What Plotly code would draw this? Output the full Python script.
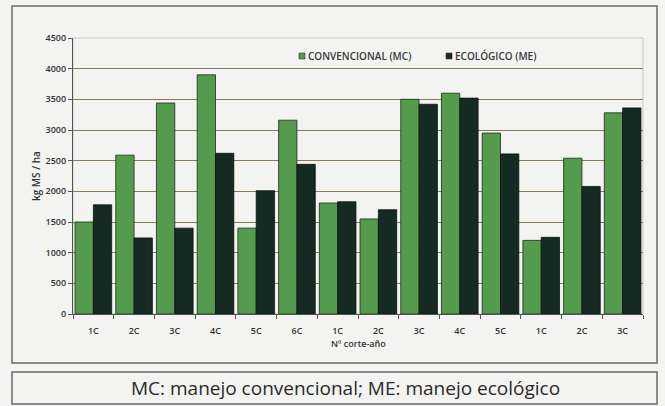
import plotly.graph_objects as go

categories = ["1C", "2C", "3C", "4C", "5C", "6C", "1C", "2C", "3C", "4C", "5C", "1C", "2C", "3C"]
conv_mc = [1500, 2590, 3440, 3900, 1400, 3160, 1810, 1550, 3500, 3600, 2950, 1200, 2540, 3280]
eco_me = [1780, 1240, 1400, 2620, 2010, 2440, 1830, 1700, 3420, 3520, 2610, 1250, 2080, 3360]
y_ticks = [0, 500, 1000, 1500, 2000, 2500, 3000, 3500, 4000, 4500]
series_names = ["CONVENCIONAL (MC)", "ECOLÓGICO (ME)"]
series_colors = ["#559b4d", "#142a22"]

FONT = "Open Sans"
x_pos = list(range(len(categories)))

fig = go.Figure()
fig.add_trace(go.Bar(x=x_pos, y=conv_mc, name=series_names[0],
                     marker=dict(color=series_colors[0], line=dict(color="#1c2a1c", width=0.8))))
fig.add_trace(go.Bar(x=x_pos, y=eco_me, name=series_names[1],
                     marker=dict(color=series_colors[1], line=dict(color="#0c1410", width=0.8))))

W, H = 665, 406
L, R, T, B = 73, 643, 38, 314
def fx(px):
    return (px - L) / (R - L)
def fy(py):
    return (B - py) / (B - T)

shapes = [
    dict(type="rect", xref="paper", yref="paper", x0=fx(12), x1=fx(657), y0=fy(363), y1=fy(6),
         line=dict(color="#6a6a6a", width=1.5), fillcolor="rgba(0,0,0,0)", layer="below"),
    dict(type="rect", xref="paper", yref="paper", x0=fx(12), x1=fx(657), y0=fy(404), y1=fy(372),
         line=dict(color="#6a6a6a", width=1.5), fillcolor="rgba(0,0,0,0)", layer="below"),
    dict(type="rect", xref="paper", yref="paper", x0=0, x1=1, y0=0, y1=1,
         line=dict(color="#c8c8c4", width=1), fillcolor="rgba(0,0,0,0)", layer="below"),
]
annotations = [
    dict(text="kg MS / ha", xref="paper", yref="paper", x=fx(36), y=fy(176), textangle=-90,
         showarrow=False, font=dict(size=10, color="#333333", family=FONT, weight=600),
         xanchor="center", yanchor="middle"),
    dict(text="Nº corte-año", xref="paper", yref="paper", x=0.5, y=fy(343),
         showarrow=False, font=dict(size=9, color="#333333", family=FONT, weight=600),
         xanchor="center", yanchor="middle"),
    dict(text="MC: manejo convencional; ME: manejo ecológico", xref="paper", yref="paper",
         x=fx(345), y=fy(388), showarrow=False,
         font=dict(size=19, color="#2a2a2a", family=FONT, weight=500),
         xanchor="center", yanchor="middle"),
]
# manual legend
leg_x = [299, 446]
for name, col, lx in zip(series_names, series_colors, leg_x):
    shapes.append(dict(type="rect", xref="paper", yref="paper", x0=fx(lx), x1=fx(lx + 6),
                       y0=fy(59), y1=fy(53), fillcolor=col, line=dict(color="#333333", width=0.6)))
    annotations.append(dict(text=name, xref="paper", yref="paper", x=fx(lx + 7), y=fy(56),
                            showarrow=False, xanchor="left", yanchor="middle",
                            font=dict(size=10, color="#3a3a3a", family=FONT, weight=600)))

fig.update_layout(
    width=W, height=H,
    margin=dict(l=L, r=W - R, t=T, b=H - B, autoexpand=False),
    paper_bgcolor="#f3f3f1", plot_bgcolor="#f3f3f1",
    barmode="group", bargap=0.1, bargroupgap=0.0,
    font=dict(family=FONT, color="#333333", size=9),
    showlegend=False,
    xaxis=dict(range=[-0.5, len(categories) - 0.5], tickmode="array", tickvals=x_pos,
               ticktext=categories, ticks="", showgrid=False, showline=True,
               linecolor="#555555", linewidth=1.2, ticklabelstandoff=8,
               tickfont=dict(size=9, color="#333333", weight=600),
               minor=dict(tick0=-0.5, dtick=1, ticks="outside", ticklen=4, tickcolor="#555555"),
               zeroline=False, fixedrange=True, automargin=False),
    yaxis=dict(range=[0, 4500], tickmode="array", tickvals=y_ticks,
               ticks="outside", ticklen=4, tickcolor="#555555",
               showgrid=True, gridcolor="#8a7b55", gridwidth=1.3,
               showline=True, linecolor="#555555", linewidth=1.2,
               tickfont=dict(size=9, color="#333333", weight=600), zeroline=False,
               fixedrange=True, automargin=False),
    shapes=shapes,
    annotations=annotations,
)

fig.write_html("out.html", config={"displayModeBar": False},
               post_script="document.body.style.margin='0';document.body.style.padding='0';"
                           "document.body.style.overflow='hidden';"
                           "document.body.style.background='#f3f3f1';")
